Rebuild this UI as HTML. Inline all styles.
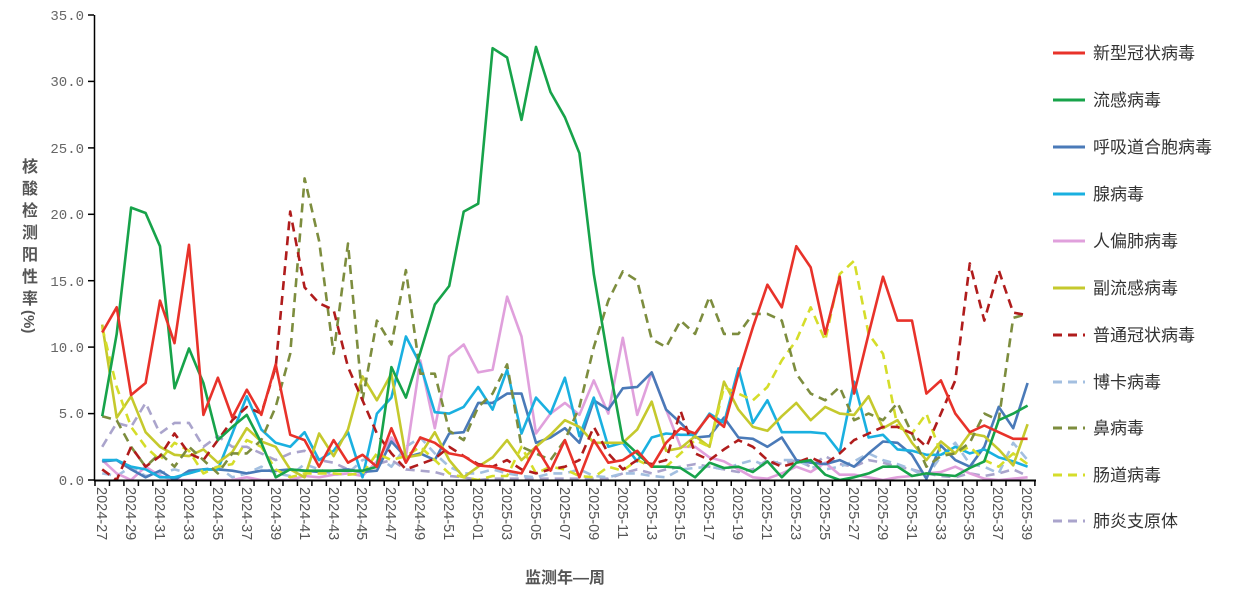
<!DOCTYPE html>
<html><head><meta charset="utf-8"><style>
html,body{margin:0;padding:0;background:#fff;}
svg{display:block;}
.yt{font-family:"Liberation Mono",monospace;font-size:14px;fill:#666;}
.xt{font-family:"Liberation Sans",sans-serif;font-size:14.5px;fill:#555;}
.lg{font-family:"Liberation Sans","Noto Sans CJK SC",sans-serif;font-size:17px;fill:#333;}
.tt{font-family:"Liberation Sans","Noto Sans CJK SC",sans-serif;font-size:16px;font-weight:bold;fill:#555;}
</style></head><body>
<svg id="c" width="1247" height="606" viewBox="0 0 1247 606" xmlns="http://www.w3.org/2000/svg">
<g id="series" fill="none" stroke-width="2.6" stroke-linejoin="round"></g>
<line x1="94.5" y1="15" x2="94.5" y2="481" stroke="#000" stroke-width="1.5"/>
<line x1="94" y1="480.5" x2="1036" y2="480.5" stroke="#000" stroke-width="2"/>
<g stroke="#000" stroke-width="1.5">
<line x1="88" y1="15" x2="94" y2="15"/><line x1="88" y1="81.4" x2="94" y2="81.4"/><line x1="88" y1="147.9" x2="94" y2="147.9"/><line x1="88" y1="214.3" x2="94" y2="214.3"/><line x1="88" y1="280.7" x2="94" y2="280.7"/><line x1="88" y1="347.1" x2="94" y2="347.1"/><line x1="88" y1="413.6" x2="94" y2="413.6"/><line x1="88" y1="480" x2="94" y2="480"/>
</g>
<g id="xticks" stroke="#000" stroke-width="1.5"></g>
<g class="yt" text-anchor="end">
<text x="84" y="20">35.0</text><text x="84" y="86">30.0</text><text x="84" y="153">25.0</text><text x="84" y="219">20.0</text><text x="84" y="286">15.0</text><text x="84" y="352">10.0</text><text x="84" y="418">5.0</text><text x="84" y="485">0.0</text>
</g>
<g class="xt">
<text transform="translate(97,487) rotate(90)">2024-27</text>
<text transform="translate(126,487) rotate(90)">2024-29</text>
<text transform="translate(155,487) rotate(90)">2024-31</text>
<text transform="translate(184,487) rotate(90)">2024-33</text>
<text transform="translate(213,487) rotate(90)">2024-35</text>
<text transform="translate(242,487) rotate(90)">2024-37</text>
<text transform="translate(271,487) rotate(90)">2024-39</text>
<text transform="translate(300,487) rotate(90)">2024-41</text>
<text transform="translate(329,487) rotate(90)">2024-43</text>
<text transform="translate(357,487) rotate(90)">2024-45</text>
<text transform="translate(386,487) rotate(90)">2024-47</text>
<text transform="translate(415,487) rotate(90)">2024-49</text>
<text transform="translate(444,487) rotate(90)">2024-51</text>
<text transform="translate(473,487) rotate(90)">2025-01</text>
<text transform="translate(502,487) rotate(90)">2025-03</text>
<text transform="translate(531,487) rotate(90)">2025-05</text>
<text transform="translate(560,487) rotate(90)">2025-07</text>
<text transform="translate(589,487) rotate(90)">2025-09</text>
<text transform="translate(618,487) rotate(90)">2025-11</text>
<text transform="translate(647,487) rotate(90)">2025-13</text>
<text transform="translate(675,487) rotate(90)">2025-15</text>
<text transform="translate(704,487) rotate(90)">2025-17</text>
<text transform="translate(733,487) rotate(90)">2025-19</text>
<text transform="translate(762,487) rotate(90)">2025-21</text>
<text transform="translate(791,487) rotate(90)">2025-23</text>
<text transform="translate(820,487) rotate(90)">2025-25</text>
<text transform="translate(849,487) rotate(90)">2025-27</text>
<text transform="translate(878,487) rotate(90)">2025-29</text>
<text transform="translate(907,487) rotate(90)">2025-31</text>
<text transform="translate(936,487) rotate(90)">2025-33</text>
<text transform="translate(964,487) rotate(90)">2025-35</text>
<text transform="translate(993,487) rotate(90)">2025-37</text>
<text transform="translate(1022,487) rotate(90)">2025-39</text>
</g>
<g class="tt">
<text x="30" y="172" text-anchor="middle">核</text>
<text x="30" y="194" text-anchor="middle">酸</text>
<text x="30" y="216" text-anchor="middle">检</text>
<text x="30" y="238" text-anchor="middle">测</text>
<text x="30" y="260" text-anchor="middle">阳</text>
<text x="30" y="282" text-anchor="middle">性</text>
<text x="30" y="304" text-anchor="middle">率</text>
<text transform="translate(24,310) rotate(90)" style="font-size:15px">(%)</text>
<text x="565" y="583" text-anchor="middle">监测年—周</text>
</g>
<g stroke-width="3" fill="none">
<line x1="1053" y1="53" x2="1085" y2="53" stroke="#e8322a"/>
<line x1="1053" y1="100" x2="1085" y2="100" stroke="#17a34a"/>
<line x1="1053" y1="147" x2="1085" y2="147" stroke="#4a7ab8"/>
<line x1="1053" y1="194" x2="1085" y2="194" stroke="#1ab0e0"/>
<line x1="1053" y1="241" x2="1085" y2="241" stroke="#e0a0dc"/>
<line x1="1053" y1="288" x2="1085" y2="288" stroke="#c5c92d"/>
<line x1="1053" y1="335" x2="1085" y2="335" stroke="#b01c1c" stroke-dasharray="9,6"/>
<line x1="1053" y1="382" x2="1085" y2="382" stroke="#a3bfe0" stroke-dasharray="9,6"/>
<line x1="1053" y1="428" x2="1085" y2="428" stroke="#7d8d3e" stroke-dasharray="9,6"/>
<line x1="1053" y1="475" x2="1085" y2="475" stroke="#d5dd2a" stroke-dasharray="9,6"/>
<line x1="1053" y1="521" x2="1085" y2="521" stroke="#aaa4cc" stroke-dasharray="9,6"/>
</g>
<g class="lg">
<text x="1093" y="59">新型冠状病毒</text>
<text x="1093" y="106">流感病毒</text>
<text x="1093" y="153">呼吸道合胞病毒</text>
<text x="1093" y="200">腺病毒</text>
<text x="1093" y="247">人偏肺病毒</text>
<text x="1093" y="294">副流感病毒</text>
<text x="1093" y="341">普通冠状病毒</text>
<text x="1093" y="388">博卡病毒</text>
<text x="1093" y="434">鼻病毒</text>
<text x="1093" y="481">肠道病毒</text>
<text x="1093" y="527">肺炎支原体</text>
</g>
</svg>
<script>
(function(){
var NS="http://www.w3.org/2000/svg";
var X=function(i){return 102.2+i*14.46;};
var Y=function(v){return 480-v*13.286;};
var xt=document.getElementById("xticks");
for(var k=0;k<=65;k++){var l=document.createElementNS(NS,"line");var x=95+k*14.46;l.setAttribute("x1",x);l.setAttribute("x2",x);l.setAttribute("y1",480);l.setAttribute("y2",486);xt.appendChild(l);}
var S=[
["#aaa4cc","9,6",[2.5,4.3,4.0,5.8,3.5,4.3,4.3,2.5,3.3,2.5,2.5,2.0,1.5,2.0,2.2,1.5,1.3,0.8,0.5,1.2,1.5,0.8,0.7,0.6,0.3,0.2,0,0.1,0.1,0.1,0.1,0.1,0.1,0.1,0.1,0.1,0.5,0.8,0.5,0.8,1.0,1.2,1.0,0.8,0.6,0.8,1.5,1.2,1.5,1.0,1.8,1.2,1.0,1.5,1.3,1.0,0.8,0.5,0.3,0.2,0.5,0.3,0.5,0.8,0.3]],
["#a3bfe0","9,6",[0.5,0.3,1.0,0.3,0.5,0.8,0.5,0.8,1.0,0.2,0.5,1.0,0.5,0.3,1.2,0.8,0.4,0.5,1.5,1.8,1.0,2.5,3.2,2.0,1.0,0.5,0.5,0.8,0.5,0.3,0.2,0.5,0.5,0.8,0.3,0.2,0.5,0.5,0.3,0.2,0.8,0.9,1.0,0.8,1.2,1.5,1.0,1.5,1.5,1.0,0.8,1.0,1.4,2.0,1.5,1.2,0.8,0.2,1.8,2.8,1.2,1.0,0.5,2.8,1.5]],
["#e0a0dc","",[1.5,0.5,0,1.0,0.3,0,0,0,0,0,0.2,0,0,0,0.3,0.2,0.4,0.5,0.3,1.4,3.2,1.7,9.0,3.9,9.3,10.2,8.1,8.3,13.8,10.8,3.5,5.0,5.8,4.9,7.5,5.0,10.7,4.9,8.1,5.3,2.5,2.5,1.7,1.4,0.8,0.2,0.1,0.5,1.0,0.6,1.3,0.4,0.4,0.2,0,0.2,0.3,0.5,0.6,1.0,0.5,0.1,0,0.1,0.2]],
["#4a7ab8","",[1.4,1.5,0.8,0.2,0.7,0,0.7,0.8,0.8,0.7,0.5,0.7,0.7,0.8,0.7,0.6,0.7,0.8,0.6,0.7,2.9,1.7,2.0,1.5,3.5,3.6,5.8,5.8,6.5,6.5,2.8,3.2,3.9,2.8,6.0,5.3,6.9,7.0,8.1,5.3,4.3,3.2,3.3,4.7,3.2,3.1,2.5,3.2,1.5,1.3,1.2,1.5,1.0,2.0,2.9,2.8,1.9,0.1,2.6,1.5,1.0,2.5,5.5,3.9,7.3]],
["#1ab0e0","",[1.5,1.5,1.0,0.8,0.2,0.2,0.5,0.8,0.8,3.5,6.3,3.8,2.8,2.5,3.6,1.5,2.2,3.6,0.2,5.0,6.2,10.8,8.7,5.1,5.0,5.5,7.0,5.3,8.3,3.5,6.2,5.0,7.7,3.3,6.2,2.5,2.8,1.4,3.2,3.5,3.4,3.4,5.0,4.3,8.4,4.3,6.0,3.6,3.6,3.6,3.5,2.1,7.4,3.2,3.4,2.3,2.2,1.9,1.9,2.5,2.0,2.3,1.7,1.4,1.0]],
["#c5c92d","",[11.7,4.7,6.3,3.6,2.5,1.9,1.8,2.3,1.3,2.1,3.9,2.9,2.5,0.8,0.2,3.5,1.8,3.8,7.8,6.0,8.0,1.7,1.9,3.6,1.5,0.2,1.0,1.7,3.0,1.5,2.5,3.4,4.5,4.0,2.8,2.8,2.8,3.8,5.9,2.2,2.4,3.3,2.5,7.4,5.3,4.0,3.7,4.8,5.8,4.5,5.5,5.0,4.9,6.3,3.9,4.5,2.8,1.5,2.9,2.0,3.5,3.3,2.3,1.1,4.2]],
["#d5dd2a","9,6",[11.5,7.0,4.0,2.5,1.5,2.8,2.2,0.5,1.0,1.2,3.0,2.5,0.8,0.2,0.5,0.5,0.5,0.4,0.5,2.0,1.5,1.8,2.5,1.5,0.5,0.2,0,0.3,0.3,2.5,0.5,1.0,0.8,0.3,0.2,1.0,0.7,1.5,1.0,1.0,2.0,3.0,2.5,7.0,6.5,6.0,7.0,9.0,10.5,13.0,10.5,15.5,16.5,11.0,9.5,4.0,3.5,5.0,2.0,2.0,2.5,1.5,1.0,2.0,1.2]],
["#7d8d3e","9,6",[4.8,4.5,2.5,1.0,2.0,1.0,2.5,1.5,0.5,2.0,2.0,3.0,5.5,9.5,22.7,18.0,9.5,17.8,6.0,12.0,10.2,15.8,8.0,8.0,3.7,3.0,5.5,6.5,8.7,2.5,2.0,1.5,3.0,5.5,10.0,13.5,15.7,15.0,10.6,10.0,12.0,11.0,13.8,11.0,11.0,12.5,12.5,12.0,8.0,6.5,6.0,7.0,4.5,5.0,4.5,5.8,3.5,1.0,1.8,2.0,2.8,5.0,4.5,12.2,12.5]],
["#b01c1c","9,6",[0.8,0,2.5,1.0,1.8,3.5,2.0,1.5,3.0,4.5,5.5,5.0,8.5,20.2,14.5,13.3,12.8,8.5,6.0,3.5,2.0,0.8,1.2,1.6,2.5,1.8,1.2,1.0,1.5,0.8,0.5,0.8,1.0,1.5,4.0,2.0,0.8,1.5,1.2,1.5,5.2,2.0,1.5,2.3,3.0,2.5,1.5,1.0,1.3,1.7,1.2,2.0,3.0,3.5,4.0,4.0,3.5,2.5,5.0,7.5,16.3,12.0,15.8,12.6,12.4]],
["#17a34a","",[4.8,11.0,20.5,20.1,17.6,6.9,9.9,7.3,3.0,4.0,4.9,2.8,0.2,0.8,0.7,0.7,0.7,0.7,0.7,1.0,8.5,6.2,9.6,13.2,14.6,20.2,20.8,32.5,31.8,27.1,32.6,29.2,27.3,24.6,15.5,9.0,3.0,2.0,1.0,1.0,0.9,0.2,1.3,0.9,1.0,0.6,1.4,0.2,1.3,1.5,0.4,0,0.2,0.5,1.0,1.0,0.3,0.5,0.4,0.3,0.9,1.4,4.5,5.0,5.6]],
["#e8322a","",[11.1,13.0,6.4,7.3,13.5,10.3,17.7,4.9,7.7,4.7,6.8,4.9,8.7,3.4,3.0,1.0,3.0,1.3,1.9,1.0,3.9,1.3,3.2,2.8,2.0,1.8,1.1,1.0,0.7,0.5,2.5,0.7,3.0,0.2,3.0,1.3,1.5,2.2,1.0,2.8,3.9,3.5,4.9,4.0,8.0,11.5,14.7,13.0,17.6,16.0,11.0,15.3,6.5,11.0,15.3,12.0,12.0,6.5,7.5,5.0,3.6,4.1,3.6,3.1,3.1]]
];
var g=document.getElementById("series");
S.forEach(function(s){var p=document.createElementNS(NS,"polyline");var pts=s[2].map(function(v,i){return X(i).toFixed(1)+","+Y(v).toFixed(1);}).join(" ");p.setAttribute("points",pts);p.setAttribute("stroke",s[0]);if(s[1])p.setAttribute("stroke-dasharray",s[1]);g.appendChild(p);});
})();
</script>
</body></html>
